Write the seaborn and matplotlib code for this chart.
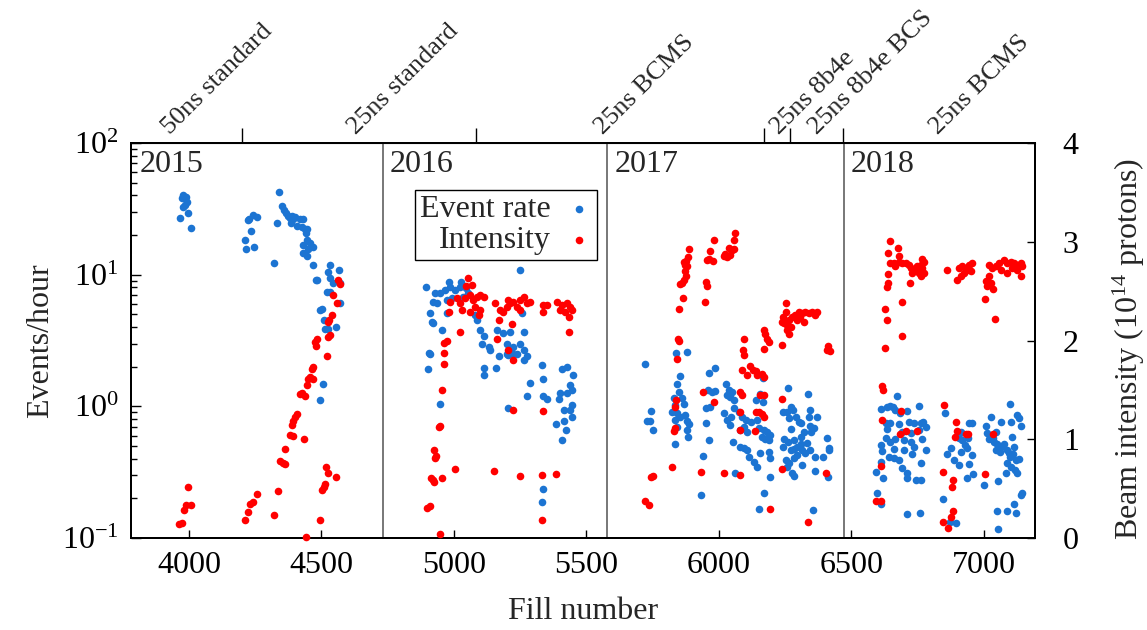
import matplotlib
matplotlib.use("Agg")
import matplotlib.pyplot as plt
import seaborn as sns
import pandas as pd
from matplotlib.ticker import LogLocator, NullFormatter, FixedLocator

# ---- data: (fill number, value) ----
rate_2015 = [(3966, 26.9), (3972, 38), (3978, 40), (3989, 39), (3991, 35.6), (3976, 32.6), (3985, 33.8),
             (3997, 29.4), (4008, 22.6), (4212, 18.3), (4215, 15.6), (4222, 26.0), (4228, 26.3), (4233, 21.4),
             (4243, 28.4), (4247, 16.3), (4256, 27.5), (4322, 12.3), (4334, 24.8), (4341, 42.2), (4352, 33.2),
             (4359, 30.9), (4365, 29.2), (4375, 27.9), (4382, 26.8), (4388, 27.9), (4394, 26.3), (4384, 24.5),
             (4400, 27.2), (4409, 23.4), (4419, 26.3), (4430, 26.3), (4426, 22.9), (4438, 22.1), (4445, 22.1),
             (4442, 20.6), (4447, 18.3), (4457, 17.3), (4451, 15.8), (4467, 16.1), (4432, 16.8), (4430, 14.5),
             (4445, 13.8), (4470, 11.8), (4480, 9.1), (4485, 9.1), (4495, 5.4), (4501, 5.5), (4510, 4.5),
             (4514, 3.9), (4526, 3.9), (4533, 11.8), (4526, 10.5), (4533, 9.4), (4545, 8.6), (4567, 10.8),
             (4570, 8.6), (4570, 6.05), (4555, 4.0), (4520, 7.4), (4533, 7.4), (4504, 1.48), (4495, 1.12)]

rate_2016 = [(5251, 10.8), (4895, 8.0), (4980, 8.8), (5026, 8.8), (4929, 7.2), (4948, 7.3), (4967, 7.7),
             (4986, 8.1), (5005, 7.6), (5024, 8.1), (5046, 7.9), (4923, 6.2), (4936, 6.05), (4974, 6.4),
             (4993, 6.6), (5036, 6.8), (5055, 7.2), (4911, 5.1), (4917, 4.4), (4923, 4.3), (4955, 3.8),
             (5087, 4.5), (5099, 3.8), (5112, 3.4), (5106, 3.0), (5162, 3.8), (5187, 3.6), (5213, 3.7),
             (5263, 3.7), (5257, 5.1), (5137, 2.7), (5200, 3.0), (5225, 2.8), (5251, 3.0), (5263, 2.7),
             (5276, 2.4), (4907, 2.55), (4974, 5.1), (5080, 4.9), (5131, 2.8), (5169, 2.4), (5206, 2.45),
             (5238, 2.5), (4908, 2.5), (4904, 1.91), (4946, 1.04), (5112, 1.94), (5112, 1.73), (5160, 1.94),
             (5200, 2.5), (5225, 2.5), (5263, 2.25), (5332, 2.06), (5338, 1.6), (5288, 1.51), (5276, 1.2),
             (5338, 1.2), (5351, 1.13), (5206, 0.97), (5408, 1.91), (5427, 2.0), (5450, 1.73), (5437, 1.45),
             (5446, 1.33), (5402, 1.26), (5395, 1.13), (5427, 1.27), (5446, 1.02), (5439, 0.94), (5414, 0.93),
             (5446, 0.83), (5387, 0.74), (5416, 0.78), (5424, 0.66), (5408, 0.56), (5338, 0.237), (5332, 0.188)]

rate_2017 = [(5840, 2.53), (5880, 2.6), (5723, 2.10), (5746, 0.926), (5729, 0.773), (5739, 0.773), (5751, 0.657),
             (5855, 1.71), (5843, 1.48), (5849, 1.29), (5830, 1.15), (5862, 1.15), (5836, 1.02), (5868, 1.05),
             (5824, 0.90), (5843, 0.884), (5855, 0.834), (5874, 0.859), (5836, 0.787), (5880, 0.778),
             (5887, 0.734), (5843, 0.70), (5880, 0.661), (5883, 0.588), (5833, 0.517), (5962, 1.78),
             (5984, 1.94), (5958, 1.33), (5975, 1.29), (5984, 1.31), (5953, 0.965), (5966, 0.99), (5953, 0.742),
             (5962, 0.555), (5941, 0.422), (5933, 0.212), (6029, 1.48), (6038, 1.33), (6050, 1.29), (6044, 1.18),
             (6032, 1.22), (6057, 1.12), (6059, 0.965), (6019, 0.884), (6032, 0.787), (6047, 0.834),
             (6042, 0.721), (6076, 0.91), (6088, 0.834), (6101, 0.787), (6094, 0.70), (6082, 0.661),
             (6107, 0.642), (6120, 0.764), (6139, 1.12), (6157, 1.25), (6168, 1.63), (6168, 1.07), (6145, 0.787),
             (6151, 0.68), (6170, 0.661), (6183, 0.642), (6195, 0.605), (6164, 0.588), (6176, 0.561),
             (6189, 0.555), (6054, 0.539), (6079, 0.494), (6094, 0.48), (6107, 0.466), (6113, 0.415),
             (6132, 0.38), (6145, 0.348), (6157, 0.445), (6189, 0.452), (6193, 0.403), (6195, 0.289),
             (6170, 0.218), (6151, 0.165), (6063, 0.313), (6261, 1.37), (6243, 0.91), (6258, 0.91), (6273, 0.99),
             (6281, 0.937), (6264, 0.81), (6290, 0.834), (6302, 0.764), (6309, 0.742), (6271, 0.668),
             (6246, 0.561), (6261, 0.539), (6283, 0.555), (6309, 0.588), (6321, 0.642), (6336, 1.24),
             (6346, 0.937), (6340, 0.834), (6372, 0.824), (6344, 0.709), (6359, 0.68), (6349, 0.642),
             (6334, 0.523), (6309, 0.517), (6296, 0.494), (6283, 0.471), (6271, 0.466), (6243, 0.488),
             (6252, 0.391), (6264, 0.369), (6283, 0.403), (6296, 0.427), (6315, 0.466), (6327, 0.439),
             (6346, 0.466), (6365, 0.415), (6258, 0.348), (6277, 0.31), (6283, 0.296), (6315, 0.358),
             (6365, 0.324), (6409, 0.571), (6416, 0.48), (6416, 0.466), (6412, 0.289), (6394, 0.41), (6354, 0.163)]

rate_2018 = [(6674, 1.20), (6613, 0.948), (6636, 0.982), (6648, 1.005), (6658, 0.982), (6667, 0.937),
             (6686, 0.895), (6709, 0.926), (6755, 1.005), (6633, 0.751), (6648, 0.742), (6680, 0.734),
             (6718, 0.764), (6737, 0.742), (6762, 0.751), (6772, 0.764), (6781, 0.692), (6755, 0.661),
             (6724, 0.631), (6692, 0.642), (6636, 0.668), (6630, 0.571), (6646, 0.539), (6667, 0.561),
             (6701, 0.555), (6724, 0.539), (6768, 0.561), (6613, 0.508), (6617, 0.46), (6661, 0.474),
             (6699, 0.466), (6737, 0.488), (6781, 0.466), (6642, 0.415), (6661, 0.403), (6680, 0.391),
             (6730, 0.434), (6762, 0.373), (6611, 0.38), (6592, 0.319), (6692, 0.338), (6709, 0.31),
             (6621, 0.287), (6711, 0.287), (6743, 0.276), (6762, 0.276), (6596, 0.218), (6613, 0.181),
             (6711, 0.152), (6758, 0.154), (6854, 0.884), (6862, 0.434), (6878, 0.48), (6888, 0.391),
             (6907, 0.358), (6915, 0.452), (6928, 0.508), (6941, 0.571), (6944, 0.751), (6957, 0.742),
             (6919, 0.555), (6938, 0.48), (6957, 0.427), (6944, 0.365), (6961, 0.306), (6936, 0.287),
             (6907, 0.571), (6915, 0.642), (6847, 0.197), (6873, 0.133), (6894, 0.131), (7007, 0.709),
             (7029, 0.834), (7064, 0.764), (7020, 0.561), (7039, 0.539), (7051, 0.517), (7064, 0.494),
             (7077, 0.517), (7045, 0.466), (7061, 0.452), (7087, 0.466), (7095, 0.445), (7108, 0.581),
             (7114, 0.488), (7099, 0.41), (7112, 0.434), (7121, 0.391), (7133, 0.396), (7089, 0.369),
             (7102, 0.348), (7083, 0.31), (7117, 0.328), (7127, 0.31), (7054, 0.272), (7003, 0.253),
             (7127, 0.859), (7140, 0.709), (7133, 0.81), (7102, 0.764), (7099, 1.04), (7146, 0.218),
             (7140, 0.212), (7114, 0.181), (7051, 0.161), (7089, 0.161), (7121, 0.154), (7054, 0.118),
             (7011, 0.631), (7036, 0.571), (7045, 0.642)]

# beam intensity in units of 1e14 protons
inten_2015 = [(4564, 2.61), (4570, 2.57), (4545, 2.46), (4558, 2.38), (4539, 2.26), (4530, 2.21), (4523, 2.19),
              (4533, 2.06), (4526, 2.04), (4482, 2.02), (4476, 1.99), (4480, 1.94), (4520, 1.84), (4467, 1.73),
              (4463, 1.71), (4457, 1.63), (4451, 1.61), (4467, 1.61), (4447, 1.55), (4426, 1.47), (4438, 1.44),
              (4419, 1.46), (4409, 1.26), (4400, 1.23), (4394, 1.18), (4388, 1.14), (4382, 1.04), (4392, 1.03),
              (4434, 1.00), (4363, 0.90), (4344, 0.78), (4356, 0.76), (4363, 0.75), (4335, 0.48), (4322, 0.23),
              (4441, 0.01), (4518, 0.72), (4526, 0.66), (4555, 0.62), (4514, 0.55), (4508, 0.52), (4501, 0.49),
              (4495, 0.18), (4256, 0.45), (4243, 0.36), (4230, 0.34), (4222, 0.26), (4212, 0.18), (3997, 0.52),
              (3988, 0.33), (4008, 0.33), (3981, 0.28), (3972, 0.15), (3963, 0.14)]

inten_2016 = [(5055, 2.63), (5068, 2.56), (5046, 2.55), (4986, 2.39), (4980, 2.29), (5011, 2.43), (5024, 2.38),
              (5030, 2.31), (5043, 2.43), (5062, 2.46), (5074, 2.41), (5087, 2.44), (5099, 2.46), (5112, 2.44),
              (5080, 2.34), (5099, 2.31), (5062, 2.29), (5093, 2.26), (5024, 2.09), (4974, 2.0), (4961, 1.97),
              (5156, 2.38), (5175, 2.31), (5169, 2.21), (5187, 2.29), (5200, 2.34), (5213, 2.38), (5225, 2.39),
              (5238, 2.34), (5251, 2.41), (5263, 2.44), (5276, 2.38), (5288, 2.39), (5251, 2.31), (5206, 2.41),
              (5219, 2.17), (5162, 2.02), (5338, 2.36), (5351, 2.36), (5338, 2.29), (5389, 2.39), (5408, 2.36),
              (5427, 2.38), (5439, 2.34), (5446, 2.31), (5402, 2.31), (5420, 2.29), (5433, 2.24), (5433, 2.09),
              (5206, 1.90), (5223, 1.80), (4963, 1.87), (4961, 1.76), (4957, 1.50), (4946, 1.13), (4942, 1.12),
              (4926, 0.89), (4933, 0.83), (4929, 0.81), (4913, 0.61), (4921, 0.59), (4926, 0.57), (4955, 0.61),
              (5005, 0.70), (4898, 0.30), (4908, 0.32), (4946, 0.04), (5150, 0.68), (5248, 0.63), (5332, 0.64),
              (5387, 0.65), (5332, 0.18), (5223, 1.30), (5338, 1.29)]

inten_2017 = [(5886, 2.93), (5883, 2.85), (5878, 2.81), (5868, 2.80), (5874, 2.76), (5880, 2.75), (5874, 2.70),
              (5878, 2.65), (5868, 2.61), (5861, 2.58), (5855, 2.57), (5865, 2.43), (5849, 2.32), (5845, 2.02),
              (5849, 2.00), (5983, 3.02), (5966, 2.91), (5962, 2.83), (5978, 2.81), (5956, 2.82), (5953, 2.59),
              (5956, 2.55), (5949, 2.39), (6060, 3.09), (6056, 3.02), (6059, 2.93), (6050, 2.92), (6038, 2.94),
              (6025, 2.88), (6031, 2.85), (6021, 2.86), (6044, 2.87), (6254, 2.38), (6252, 2.29), (6243, 2.24),
              (6239, 2.19), (6248, 2.18), (6258, 2.16), (6264, 2.21), (6258, 2.11), (6271, 2.14), (6277, 2.24),
              (6289, 2.26), (6302, 2.29), (6315, 2.28), (6327, 2.29), (6340, 2.28), (6352, 2.29), (6365, 2.26),
              (6371, 2.29), (6308, 2.24), (6321, 2.19), (6296, 2.21), (6264, 2.07), (6239, 1.95), (6172, 2.11),
              (6176, 2.07), (6182, 2.02), (6189, 1.99), (6170, 1.91), (6097, 2.02), (6092, 1.90), (6095, 1.85),
              (6411, 1.94), (6409, 1.90), (6419, 1.89), (5843, 1.81), (5840, 1.40), (5836, 1.33), (5833, 1.11),
              (5830, 1.08), (5824, 0.72), (5746, 0.62), (5751, 0.63), (5723, 0.37), (5736, 0.33), (5941, 1.48),
              (5981, 1.38), (5933, 0.67), (6019, 0.66), (6079, 0.64), (6082, 1.48), (6088, 1.45), (6082, 1.28),
              (6082, 1.09), (6088, 1.70), (6107, 1.65), (6117, 1.74), (6130, 1.70), (6142, 1.69), (6145, 1.65),
              (6164, 1.66), (6170, 1.63), (6157, 1.45), (6170, 1.45), (6139, 1.28), (6151, 1.28), (6164, 1.26),
              (6170, 1.23), (6135, 1.08), (6239, 1.41), (6239, 0.70), (6195, 0.29), (6336, 0.16), (6403, 0.66)]

inten_2018 = [(6645, 3.01), (6640, 2.89), (6676, 2.94), (6680, 2.86), (6648, 2.79), (6661, 2.78), (6667, 2.75),
              (6680, 2.80), (6692, 2.79), (6705, 2.78), (6718, 2.76), (6724, 2.73), (6737, 2.71), (6749, 2.75),
              (6762, 2.76), (6768, 2.83), (6774, 2.80), (6768, 2.73), (6755, 2.68), (6762, 2.65), (6774, 2.68),
              (6730, 2.68), (6638, 2.67), (6638, 2.58), (6636, 2.54), (6721, 2.58), (6692, 2.39), (6627, 2.32),
              (6636, 2.21), (6692, 2.05), (6626, 1.92), (6860, 2.71), (6907, 2.73), (6919, 2.75), (6932, 2.73),
              (6944, 2.76), (6957, 2.78), (6900, 2.61), (6913, 2.65), (6925, 2.68), (6938, 2.71), (6951, 2.70),
              (7020, 2.76), (7032, 2.73), (7045, 2.75), (7058, 2.78), (7077, 2.82), (7089, 2.78), (7102, 2.80),
              (7114, 2.78), (7127, 2.76), (7140, 2.78), (7146, 2.75), (7140, 2.65), (7020, 2.65), (7007, 2.60),
              (7014, 2.55), (7026, 2.58), (7036, 2.52), (7005, 2.42), (7041, 2.22), (7064, 2.71), (7089, 2.68),
              (7108, 2.73), (7127, 2.71), (6617, 1.54), (6621, 1.50), (6689, 1.29), (6617, 1.20), (6686, 1.05),
              (6705, 1.08), (6747, 1.08), (6613, 0.73), (6595, 0.37), (6611, 0.37), (6852, 1.35), (6894, 1.17),
              (6900, 1.08), (6890, 1.02), (6932, 1.05), (6941, 1.05), (6847, 0.67), (6885, 0.59), (6881, 0.52),
              (6885, 0.27), (6878, 0.21), (6847, 0.16), (6865, 0.10), (7036, 1.05), (7004, 0.65)]

years = ["2015", "2016", "2017", "2018"]
year_start = [3815, 4756, 5606, 6497]      # where the year label sits
year_bounds = [4733, 5579, 6471]           # divider lines
scheme_bounds = [4200, 5084, 6172, 6270, 6470]
schemes = ["50ns standard", "25ns standard", "25ns BCMS", "25ns 8b4e", "25ns 8b4e BCS", "25ns BCMS"]
scheme_pos = [3928, 4631, 5564, 6228, 6372, 6826]

rate_df = pd.DataFrame(rate_2015 + rate_2016 + rate_2017 + rate_2018, columns=["fill", "rate"])
inten_df = pd.DataFrame(inten_2015 + inten_2016 + inten_2017 + inten_2018, columns=["fill", "intensity"])

sns.set_style("ticks")
plt.rcParams['font.family'] = ['Liberation Serif', 'DejaVu Serif']
plt.rcParams['mathtext.fontset'] = 'custom'
plt.rcParams['mathtext.rm'] = 'Liberation Serif'
plt.rcParams['mathtext.it'] = 'Liberation Serif:italic'
plt.rcParams['mathtext.bf'] = 'Liberation Serif:bold'
plt.rcParams['axes.edgecolor'] = 'black'
plt.rcParams['xtick.color'] = 'black'
plt.rcParams['ytick.color'] = 'black'

blue = "#1c74d2"
red = "#ff0000"
fs = 23

fig, ax = plt.subplots(figsize=(11.47, 6.3), dpi=100)
fig.subplots_adjust(left=0.1142, right=0.9024, bottom=0.146, top=0.773)
ax2 = ax.twinx()

sns.scatterplot(data=rate_df, x="fill", y="rate", ax=ax, color=blue, s=30, linewidth=0,
                label="Event rate", legend=False, clip_on=False, zorder=3)
sns.scatterplot(data=inten_df, x="fill", y="intensity", ax=ax2, color=red, s=30, linewidth=0,
                label="Intensity", legend=False, clip_on=False, zorder=3)

ax.set_yscale("log")
ax.set_ylim(0.1, 100)
ax2.set_ylim(0, 4)
ax.set_xlim(3781, 7194)

# year dividers and labels
for b in year_bounds:
    ax.axvline(b, color="#606060", lw=1.2, zorder=1)
for yr, xs in zip(years, year_start):
    ax.text(xs, 0.927, yr, transform=ax.get_xaxis_transform(), fontsize=fs, ha="left", va="baseline")

# ticks
ax.set_xticks([4000, 4500, 5000, 5500, 6000, 6500, 7000])
ax.tick_params(axis="x", direction="in", length=6, width=1, top=False, labelsize=fs, pad=9)
ax.yaxis.set_major_locator(LogLocator(base=10))
ax.yaxis.set_minor_locator(LogLocator(base=10, subs=range(2, 10)))
ax.yaxis.set_minor_formatter(NullFormatter())
ax.tick_params(axis="y", which="major", direction="in", length=7, width=1, right=False, labelsize=fs, pad=9)
ax.tick_params(axis="y", which="minor", direction="in", length=4, width=1, right=False)
ax2.set_yticks([0, 1, 2, 3, 4])
ax2.tick_params(axis="y", direction="in", length=6, width=1, labelsize=fs, pad=20)

# filling-scheme boundaries on top
top = ax.secondary_xaxis("top")
top.xaxis.set_major_locator(FixedLocator(scheme_bounds))
top.tick_params(direction="out", length=11, width=1, labeltop=False)
for name, xs in zip(schemes, scheme_pos):
    ax.text(xs, 1.02, name, transform=ax.get_xaxis_transform(), fontsize=19, rotation=45,
            rotation_mode="anchor", ha="left", va="baseline")

for a in (ax, ax2):
    for sp in a.spines.values():
        sp.set_linewidth(1.4)
        sp.set_color("black")

ax.set_xlabel("Fill number", fontsize=fs)
ax.set_ylabel("Events/hour", fontsize=fs)
ax2.set_ylabel(r"Beam intensity (10$^{\mathrm{14}}$ protons)", fontsize=fs)
ax.xaxis.set_label_coords(0.5, -0.15)
ax.yaxis.set_label_coords(-0.084, 0.5)
ax2.yaxis.set_label_coords(1.084, 0.48)

h1, l1 = ax.get_legend_handles_labels()
h2, l2 = ax2.get_legend_handles_labels()
leg = ax2.legend(h1 + h2, l1 + l2, loc="upper right", bbox_to_anchor=(0.515, 0.881), markerfirst=False,
                 fontsize=fs, frameon=True, fancybox=False, edgecolor="black", framealpha=1,
                 borderpad=0.15, labelspacing=0.05, handletextpad=0.5, handlelength=0.8, borderaxespad=0)
leg.get_frame().set_linewidth(1.0)

fig.savefig("out.png", dpi=100)
